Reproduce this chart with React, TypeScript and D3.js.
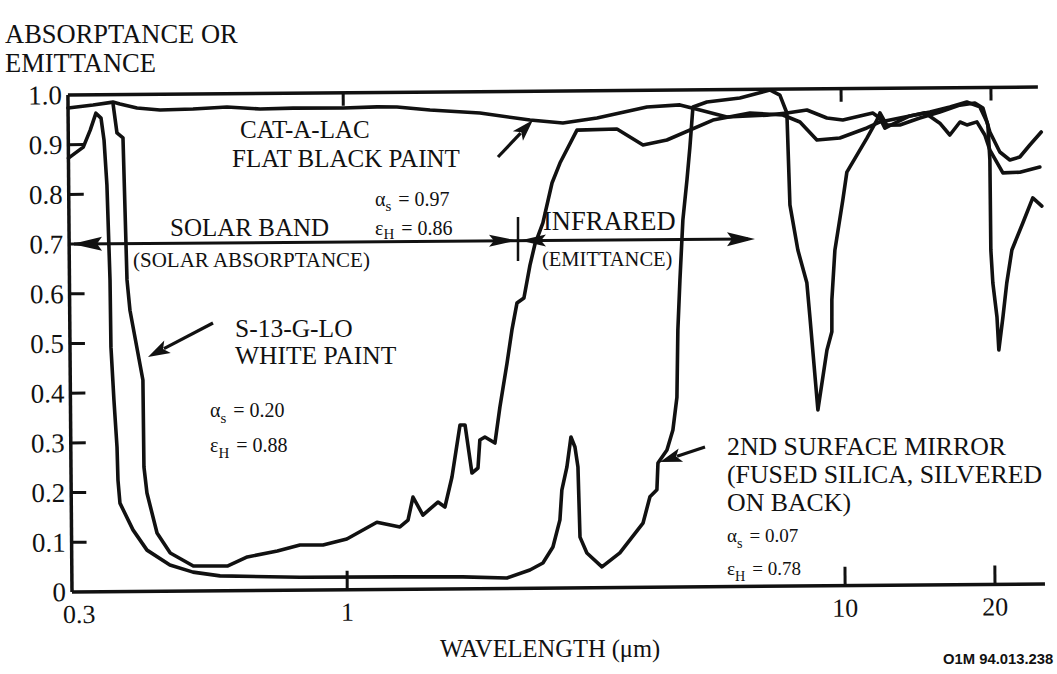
import React from "react";
import * as d3 from "d3";

const W = 1057;
const H = 674;

// ---------- data ----------
const yTickValues = [0, 0.1, 0.2, 0.3, 0.4, 0.5, 0.6, 0.7, 0.8, 0.9, 1.0];
const yTickLabels = ["0", "0.1", "0.2", "0.3", "0.4", "0.5", "0.6", "0.7", "0.8", "0.9", "1.0"];
const xTickValues = [1, 10, 20];
const xTickLabels = ["1", "10", "20"];
const xStartLabel = "0.3";

// 2nd surface mirror (fused silica, silvered on back)
const mirrorWl = [0.28, 0.30, 0.31, 0.3185, 0.326, 0.3303, 0.3342, 0.3378, 0.3384, 0.3424, 0.3467, 0.3478, 0.3507, 0.3721, 0.3967, 0.4408, 0.4904, 0.5555, 0.804, 1.276, 1.707, 2.094, 2.329, 2.474, 2.593, 2.681, 2.708, 2.774, 2.830, 2.882, 2.920, 2.940, 3.033, 3.250, 3.533, 3.936, 4.069, 4.203, 4.228, 4.410, 4.536, 4.627, 4.659, 4.713, 4.788, 4.887, 4.960, 5.038, 5.374, 6.261, 7.194, 7.535, 7.777, 7.860, 8.140, 8.475, 8.585, 8.876, 9.275, 9.496, 9.508, 9.66, 10.04, 10.24, 11.25, 11.79, 11.96, 12.34, 13.11, 14.38, 15.78, 17.31, 18.56, 19.26, 19.69, 19.85, 19.87, 20.03, 20.39, 20.54, 20.96, 21.36, 21.90, 23.06, 24.17, 25.2];
const mirrorVal = [0.873, 0.895, 0.929, 0.963, 0.953, 0.909, 0.818, 0.627, 0.492, 0.386, 0.291, 0.2245, 0.178, 0.124, 0.083, 0.0527, 0.038, 0.030, 0.026, 0.025, 0.024, 0.021, 0.0367, 0.0505, 0.0825, 0.137, 0.197, 0.243, 0.3036, 0.2835, 0.243, 0.102, 0.070, 0.0417, 0.0696, 0.129, 0.182, 0.196, 0.250, 0.276, 0.316, 0.382, 0.517, 0.618, 0.738, 0.819, 0.885, 0.9656, 0.9755, 0.983, 0.9986, 0.988, 0.952, 0.767, 0.676, 0.610, 0.541, 0.354, 0.474, 0.511, 0.575, 0.675, 0.776, 0.832, 0.900, 0.936, 0.9505, 0.926, 0.926, 0.9396, 0.9515, 0.965, 0.969, 0.9588, 0.9246, 0.854, 0.673, 0.6065, 0.538, 0.4716, 0.538, 0.606, 0.6726, 0.7268, 0.777, 0.7605];

// S-13-G-LO white paint
const whiteWl = [0.345, 0.3508, 0.3606, 0.3654, 0.370, 0.3918, 0.3924, 0.3975, 0.4158, 0.4417, 0.4912, 0.5748, 0.6307, 0.7249, 0.805, 0.8955, 1.0, 1.150, 1.279, 1.328, 1.360, 1.423, 1.526, 1.576, 1.630, 1.695, 1.735, 1.788, 1.839, 1.857, 1.901, 1.991, 2.040, 2.112, 2.163, 2.216, 2.289, 2.357, 2.414, 2.506, 2.618, 2.718, 2.944, 3.542, 3.993, 4.461, 5.523, 6.555, 7.633, 8.259, 8.926, 9.926, 11.25, 11.96, 13.11, 15.07, 16.53, 17.88, 18.99, 19.61, 19.87, 20.79, 21.77, 22.80, 23.89, 25.2];
const whiteVal = [0.98, 0.923, 0.913, 0.627, 0.566, 0.4253, 0.2503, 0.198, 0.1173, 0.0769, 0.0503, 0.0497, 0.0676, 0.079, 0.0907, 0.0903, 0.102, 0.1354, 0.1254, 0.139, 0.1855, 0.149, 0.175, 0.1648, 0.2251, 0.3296, 0.3295, 0.2328, 0.2428, 0.2992, 0.305, 0.2928, 0.365, 0.4535, 0.52, 0.574, 0.584, 0.650, 0.6925, 0.7348, 0.815, 0.855, 0.921, 0.9225, 0.890, 0.8996, 0.939, 0.9525, 0.948, 0.9336, 0.897, 0.9008, 0.9205, 0.9324, 0.940, 0.9517, 0.9614, 0.9712, 0.961, 0.9306, 0.9104, 0.870, 0.8537, 0.8596, 0.8835, 0.9095];

// Cat-a-lac flat black paint
const blackWl = [0.28, 0.3144, 0.3447, 0.3561, 0.3852, 0.4285, 0.4991, 0.584, 0.6805, 0.7925, 1.0, 1.169, 1.282, 1.493, 1.881, 2.370, 2.759, 3.231, 4.073, 4.744, 5.203, 5.892, 7.089, 7.777, 8.533, 9.357, 10.07, 10.90, 11.57, 11.96, 12.23, 12.93, 13.73, 14.72, 15.77, 16.51, 17.31, 17.87, 18.72, 19.41, 19.86, 21.07, 22.79, 25.0];
const blackVal = [0.974, 0.9795, 0.985, 0.981, 0.9728, 0.9684, 0.9698, 0.9733, 0.9688, 0.970, 0.9694, 0.971, 0.9704, 0.9638, 0.957, 0.942, 0.9356, 0.945, 0.9664, 0.970, 0.9596, 0.945, 0.948, 0.952, 0.9577, 0.9412, 0.937, 0.9447, 0.9505, 0.940, 0.920, 0.932, 0.944, 0.950, 0.929, 0.905, 0.931, 0.925, 0.931, 0.9045, 0.874, 0.828, 0.829, 0.839];

const series = [
  { name: "mirror", wl: mirrorWl, val: mirrorVal },
  { name: "white", wl: whiteWl, val: whiteVal },
  { name: "black", wl: blackWl, val: blackVal },
];

// ---------- layout ----------
const X0 = 72, X1 = 1045, Y0 = 592, Y1 = 95;
const INK = "#111";
const SERIF = "'Liberation Serif', 'Times New Roman', serif";

const x = d3.scaleLog().domain([0.28, 25.2]).range([X0, X1]);
const y = d3.scaleLinear().domain([0, 1]).range([Y0, Y1]);

const line = d3
  .line<[number, number]>()
  .x((d) => x(d[0]))
  .y((d) => y(d[1]))
  .curve(d3.curveLinear);

function Arrow({ x1, y1, x2, y2, len = 22, half = 7, sw = 3.2, line: showLine = true }: any) {
  const dx = x2 - x1, dy = y2 - y1;
  const L = Math.hypot(dx, dy);
  const ux = dx / L, uy = dy / L;
  const bx = x2 - ux * len, by = y2 - uy * len;
  const px = -uy, py = ux;
  const pts = `${x2},${y2} ${bx + px * half},${by + py * half} ${bx + ux * 5},${by + uy * 5} ${bx - px * half},${by - py * half}`;
  return (
    <g>
      {showLine && <line x1={x1} y1={y1} x2={bx + ux * 4} y2={by + uy * 4} stroke={INK} strokeWidth={sw} />}
      <polygon points={pts} fill={INK} />
    </g>
  );
}

function Sub({ x: tx, y: ty, g, s, rest, fs = 20, sh = 6 }: any) {
  return (
    <text x={tx} y={ty} fontFamily={SERIF} fontSize={fs} fill={INK}>
      <tspan>{g}</tspan>
      <tspan fontSize={fs * 0.75} dy={sh}>{s}</tspan>
      <tspan dy={-sh} dx={7}>{rest}</tspan>
    </text>
  );
}

export default function App() {
  return (
    <svg
      width={W}
      height={H}
      viewBox={`0 0 ${W} ${H}`}
      style={{ position: "absolute", left: 0, top: 0, background: "#fff", display: "block" }}
    >
      <rect x={0} y={0} width={W} height={H} fill="#fff" />

      {/* Axis title */}
      <text x={5} y={43} fontFamily={SERIF} fontSize={26.5} fill={INK}>ABSORPTANCE OR</text>
      <text x={5} y={72} fontFamily={SERIF} fontSize={26.5} fill={INK}>EMITTANCE</text>

      <g transform={`rotate(-0.47 ${X0} ${Y0})`}>
        {/* frame */}
        <line x1={X0} y1={Y1} x2={X1 - 3} y2={Y1} stroke={INK} strokeWidth={3.5} />
        <line x1={X0} y1={Y1} x2={X0} y2={Y0} stroke={INK} strokeWidth={3.5} />
        <line x1={X0} y1={Y0} x2={X1} y2={Y0} stroke={INK} strokeWidth={3.5} />

        {/* y ticks */}
        {yTickValues.map((v, i) => (
          <g key={"yt" + i}>
            {v > 0 && v < 1 && (
              <line x1={X0} x2={X0 + 15} y1={y(v)} y2={y(v)} stroke={INK} strokeWidth={3} />
            )}
            <text x={X0 - 6} y={y(v)} dy="0.34em" textAnchor="end" fontFamily={SERIF} fontSize={27} fill={INK}>
              {yTickLabels[i]}
            </text>
          </g>
        ))}

        {/* x ticks */}
        {xTickValues.map((v, i) => (
          <g key={"xt" + i}>
            <line x1={x(v)} x2={x(v)} y1={Y0} y2={Y0 - 19} stroke={INK} strokeWidth={3} />
            <line x1={x(v)} x2={x(v)} y1={Y1} y2={Y1 + 13} stroke={INK} strokeWidth={3} />
            <text x={x(v)} y={Y0 + 31} textAnchor="middle" fontFamily={SERIF} fontSize={26} fill={INK}>
              {xTickLabels[i]}
            </text>
          </g>
        ))}
        <text x={x(0.3) - 8} y={Y0 + 31} textAnchor="middle" fontFamily={SERIF} fontSize={26} fill={INK}>
          {xStartLabel}
        </text>

        {/* curves */}
        {series.map((s) => (
          <path
            key={s.name}
            d={line(s.wl.map((w, i) => [w, s.val[i]] as [number, number])) || ""}
            fill="none"
            stroke={INK}
            strokeWidth={3.6}
            strokeLinejoin="round"
            strokeLinecap="round"
          />
        ))}
      </g>

      {/* x axis title */}
      <text x={440} y={657} fontFamily={SERIF} fontSize={24.5} fill={INK}>WAVELENGTH (μm)</text>
      <text x={943} y={664} fontFamily="'Liberation Sans', Arial, sans-serif" fontSize={14.8} fontWeight="bold" fill={INK}>
        O1M 94.013.238
      </text>

      {/* Band arrows at 0.7 */}
      <line x1={74} y1={244} x2={748} y2={239} stroke={INK} strokeWidth={3} />
      <Arrow x1={200} y1={243} x2={72} y2={244} line={false} len={30} half={7} />
      <Arrow x1={400} y1={241.5} x2={517} y2={240.5} line={false} len={28} half={6} />
      <Arrow x1={640} y1={240} x2={520} y2={240.5} line={false} len={26} half={6} />
      <Arrow x1={650} y1={239.5} x2={755} y2={239} line={false} len={28} half={7} />
      <line x1={518} y1={217} x2={518} y2={261} stroke={INK} strokeWidth={2.5} />

      {/* Band labels */}
      <text x={170} y={236} fontFamily={SERIF} fontSize={25} fill={INK}>SOLAR BAND</text>
      <text x={133} y={267} fontFamily={SERIF} fontSize={21} fill={INK}>(SOLAR ABSORPTANCE)</text>
      <text x={543} y={230} fontFamily={SERIF} fontSize={26.5} fill={INK}>INFRARED</text>
      <text x={542} y={266} fontFamily={SERIF} fontSize={20.5} fill={INK}>(EMITTANCE)</text>

      {/* Cat-a-lac */}
      <text x={240} y={138} fontFamily={SERIF} fontSize={25} fill={INK}>CAT-A-LAC</text>
      <text x={232} y={167} fontFamily={SERIF} fontSize={25} fill={INK}>FLAT BLACK PAINT</text>
      <Arrow x1={498} y1={157} x2={533} y2={120} />
      <Sub x={375} y={206} g="α" s="s" rest="= 0.97" fs={20} sh={5} />
      <Sub x={375} y={235} g="ε" s="H" rest="= 0.86" fs={20} sh={4} />

      {/* White paint */}
      <text x={235} y={337} fontFamily={SERIF} fontSize={25.5} fill={INK}>S-13-G-LO</text>
      <text x={235} y={364} fontFamily={SERIF} fontSize={25.5} fill={INK}>WHITE PAINT</text>
      <Arrow x1={213} y1={323} x2={148} y2={357} />
      <Sub x={210} y={417} g="α" s="s" rest="= 0.20" fs={20} />
      <Sub x={210} y={452} g="ε" s="H" rest="= 0.88" fs={20} />

      {/* Mirror */}
      <text x={727} y={455} fontFamily={SERIF} fontSize={25.8} fill={INK}>2ND SURFACE MIRROR</text>
      <text x={727} y={483} fontFamily={SERIF} fontSize={25.8} fill={INK}>(FUSED SILICA, SILVERED</text>
      <text x={727} y={511} fontFamily={SERIF} fontSize={25.8} fill={INK}>ON BACK)</text>
      <Arrow x1={705} y1={447} x2={660} y2={462} />
      <Sub x={727} y={542} g="α" s="s" rest="= 0.07" fs={19} />
      <Sub x={727} y={575} g="ε" s="H" rest="= 0.78" fs={19} />
    </svg>
  );
}
